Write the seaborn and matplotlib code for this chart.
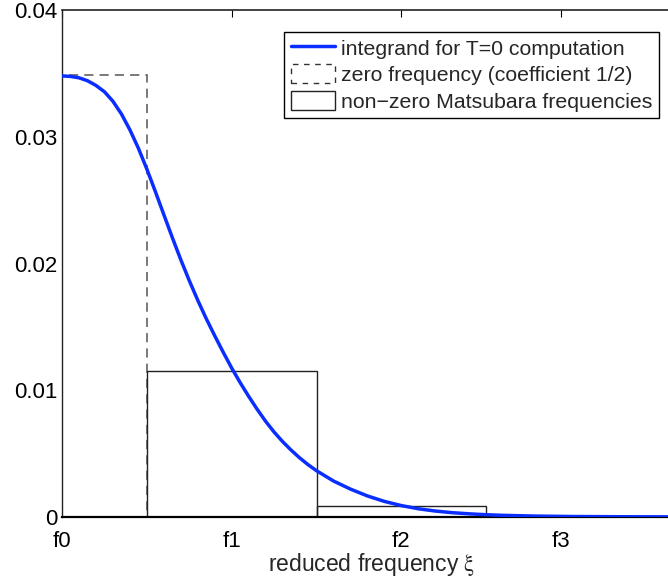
import matplotlib
matplotlib.use("Agg")
import matplotlib.pyplot as plt
import seaborn as sns
import pandas as pd
from matplotlib.lines import Line2D
from matplotlib.patches import Patch

# ---- data ----
xi = [0.00, 0.05, 0.10, 0.15, 0.20, 0.25, 0.30, 0.35, 0.40, 0.45, 0.50, 0.55,
      0.60, 0.65, 0.70, 0.75, 0.80, 0.85, 0.90, 0.95, 1.00, 1.05, 1.10, 1.15,
      1.20, 1.25, 1.30, 1.35, 1.40, 1.45, 1.50, 1.60, 1.70, 1.80, 1.90, 2.00,
      2.10, 2.20, 2.30, 2.40, 2.50, 2.60, 2.80, 3.00, 3.30, 3.65]
integrand = [0.03480, 0.03476, 0.03465, 0.03442, 0.03405, 0.03355, 0.03280,
             0.03180, 0.03055, 0.02910, 0.02745, 0.02568, 0.02386, 0.02205,
             0.02030, 0.01865, 0.01710, 0.01565, 0.01430, 0.01300, 0.01175,
             0.01060, 0.00952, 0.00850, 0.00755, 0.00670, 0.00595, 0.00528,
             0.00467, 0.00413, 0.00365, 0.00284, 0.00220, 0.00166, 0.00123,
             0.00090, 0.00065, 0.00047, 0.00034, 0.00025, 0.00018, 0.00013,
             0.00007, 0.00004, 0.00002, 0.00001]

zero_left = [0.0]
zero_width = [0.5]
zero_height = [0.0349]

nz_left = [0.5, 1.5]
nz_width = [1.0, 1.0]
nz_height = [0.01152, 0.00087]

xtick_pos = [0, 1, 2, 2.94]
xtick_labels = ["f0", "f1", "f2", "f3"]
ytick_pos = [0, 0.01, 0.02, 0.03, 0.04]
ytick_labels = ["0", "0.01", "0.02", "0.03", "0.04"]

legend_labels = ["integrand for T=0 computation",
                 "zero frequency (coefficient 1/2)",
                 "non\u2212zero Matsubara frequencies"]

# ---- style ----
sns.set_style("white")
plt.rcParams["font.family"] = ["Liberation Sans", "DejaVu Sans"]
plt.rcParams["mathtext.fontset"] = "stix"

fig = plt.figure(figsize=(6.68, 5.78), dpi=100)
ax = fig.add_axes([62 / 668, 1 - 517 / 578, 1.02 - 62 / 668, (517 - 10) / 578])

blue = "#0a2eff"

# bars
ax.bar(zero_left, zero_height, width=zero_width, align="edge", fill=False,
       edgecolor="#555555", linewidth=1.1, linestyle=(0, (6, 4)), zorder=2)
ax.bar(nz_left, nz_height, width=nz_width, align="edge", fill=False,
       edgecolor="#222222", linewidth=1.0, zorder=2)

df = pd.DataFrame({"xi": xi, "val": integrand})
sns.lineplot(data=df, x="xi", y="val", ax=ax, color=blue, linewidth=2.5,
             zorder=3, legend=False)

ax.set_xlim(0, 3.65)
ax.set_ylim(0, 0.04)
ax.set_xticks(xtick_pos)
ax.set_xticklabels(xtick_labels)
ax.set_yticks(ytick_pos)
ax.set_yticklabels(ytick_labels)
ax.tick_params(axis="both", direction="in", length=5, width=0.8,
               labelsize=16, colors="#000000", top=True, right=False, pad=3)
ax.tick_params(axis="x", pad=10)
ax.set_xlabel(r"reduced frequency $\mathrm{\xi}$", fontsize=16.5, labelpad=-1)
ax.set_ylabel("")

for side in ["left", "top", "bottom"]:
    ax.spines[side].set_visible(True)
    ax.spines[side].set_color("#222222")
ax.spines["left"].set_linewidth(1.0)
ax.spines["top"].set_linewidth(1.2)
ax.spines["bottom"].set_linewidth(1.6)
ax.spines["bottom"].set_color("#000000")
ax.spines["right"].set_visible(False)

handles = [
    Line2D([0], [0], color=blue, linewidth=2.5),
    Patch(facecolor="none", edgecolor="#333333", linestyle=(0, (4, 4)), linewidth=1.0),
    Patch(facecolor="none", edgecolor="#222222", linewidth=1.0),
]
leg = ax.legend(handles, legend_labels, loc="upper right",
                bbox_to_anchor=(659 / 668, 1 - 31.5 / 578),
                bbox_transform=fig.transFigure, borderaxespad=0,
                fontsize=15.3, frameon=True, fancybox=False, framealpha=1,
                edgecolor="#000000", handlelength=2.1, handleheight=1.0,
                handletextpad=0.28, labelspacing=0.27, borderpad=0.3)
leg.get_frame().set_linewidth(1.0)

fig.savefig("out.png", dpi=100)
